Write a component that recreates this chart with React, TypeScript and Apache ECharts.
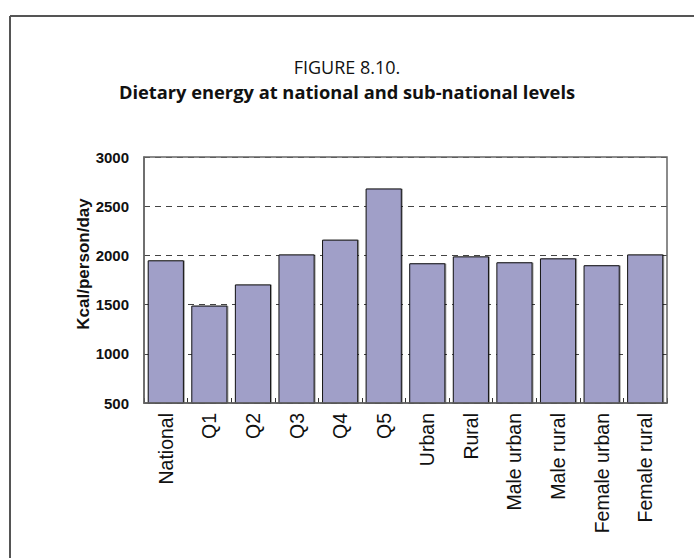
import React, { useEffect, useRef } from "react";
import * as echarts from "echarts";

const categories = ["National", "Q1", "Q2", "Q3", "Q4", "Q5", "Urban", "Rural", "Male urban", "Male rural", "Female urban", "Female rural"];
const values = [1950, 1490, 1705, 2010, 2160, 2680, 1920, 1990, 1930, 1970, 1900, 2010];
const titleLine1 = "FIGURE 8.10.";
const titleLine2 = "Dietary energy at national and sub-national levels";
const yAxisName = "Kcal/person/day";

export default function App() {
  const ref = useRef<HTMLDivElement>(null);
  useEffect(() => {
    if (!ref.current) return;
    const chart = echarts.init(ref.current, undefined, { renderer: "svg" });
    chart.setOption({
      animation: false,
      backgroundColor: "#ffffff",
      title: [
        {
          text: titleLine1,
          left: "center",
          top: 53,
          textStyle: { fontFamily: "Open Sans", fontWeight: "normal", fontSize: 18, color: "#111" },
        },
        {
          text: titleLine2,
          left: "center",
          top: 77,
          textStyle: { fontFamily: "Open Sans", fontWeight: "bold", fontSize: 18.3, color: "#111" },
        },
      ],
      graphic: [
        { type: "line", shape: { x1: 10, y1: 16, x2: 694, y2: 16 }, style: { stroke: "#555", lineWidth: 2 } },
        { type: "line", shape: { x1: 10, y1: 16, x2: 10, y2: 558 }, style: { stroke: "#555", lineWidth: 2 } },
        {
          type: "rect",
          z: 100,
          shape: { x: 144, y: 157, width: 523, height: 246 },
          style: { fill: "none", stroke: "#666", lineWidth: 1.5 },
        },
        {
          type: "text",
          x: 83,
          y: 264,
          rotation: Math.PI / 2,
          style: {
            text: yAxisName,
            fontFamily: "Liberation Sans",
            fontWeight: "bold",
            fontSize: 17,
            fill: "#111",
            textAlign: "center",
            textVerticalAlign: "middle",
          },
        },
      ],
      grid: {
        left: 144,
        right: 27,
        top: 157,
        bottom: 155,
      },
      xAxis: {
        type: "category",
        data: categories,
        axisLine: { show: true, lineStyle: { color: "#555", width: 1.5 } },
        axisTick: { show: true, inside: true, length: 5, lineStyle: { color: "#333" } },
        axisLabel: {
          rotate: 90,
          interval: 0,
          margin: 10,
          fontFamily: "Liberation Sans",
          fontSize: 19.5,
          color: "#111",
        },
      },
      yAxis: {
        type: "value",
        min: 500,
        max: 3000,
        interval: 500,
        axisLine: { show: true, lineStyle: { color: "#666", width: 1.5 } },
        axisTick: { show: false },
        axisLabel: {
          fontFamily: "Liberation Sans",
          fontWeight: "bold",
          fontSize: 15,
          color: "#111",
          margin: 15,
          formatter: (v: number) => String(v),
        },
        splitLine: { show: true, lineStyle: { color: "#444", type: [6, 5], width: 1 } },
      },
      series: [
        {
          type: "bar",
          data: values,
          barCategoryGap: "17%",
          itemStyle: {
            color: "#a09fc8",
            borderColor: "#111",
            borderWidth: 1,
            shadowColor: "rgba(0,0,0,0.35)",
            shadowBlur: 0,
            shadowOffsetX: 1,
            shadowOffsetY: 0,
          },
        },
      ],
    });
    return () => chart.dispose();
  }, []);
  return <div ref={ref} style={{ position: "absolute", left: 0, top: 0, width: 694, height: 558 }} />;
}
